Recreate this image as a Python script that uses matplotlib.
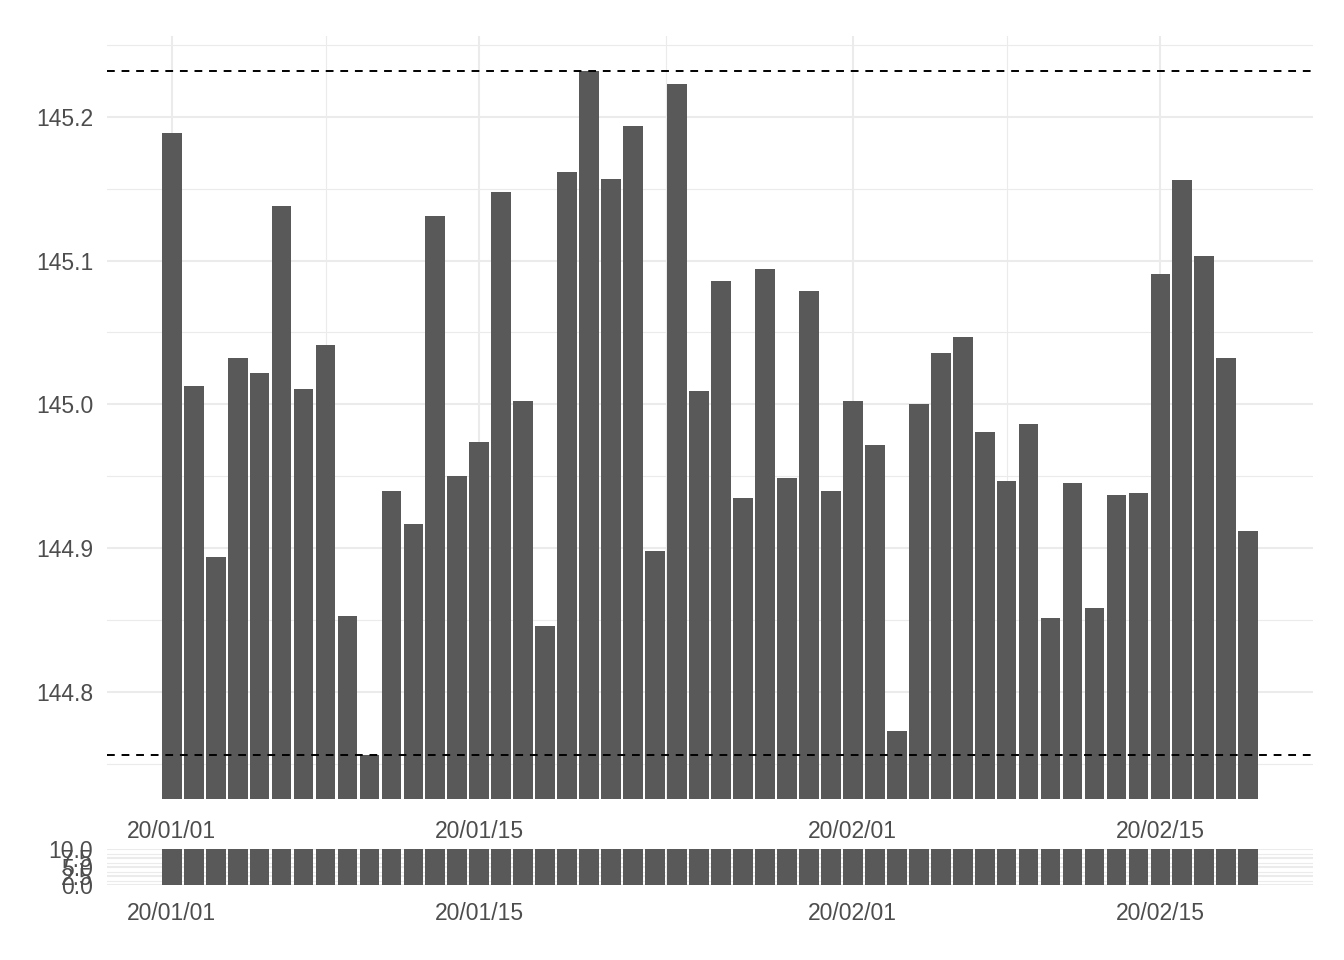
import numpy as np
import pandas as pd
import matplotlib
matplotlib.use("Agg")
import matplotlib.pyplot as plt
import matplotlib.dates as mdates
from matplotlib.ticker import FixedLocator, FormatStrFormatter, MultipleLocator

plt.rcParams['font.family'] = ['Liberation Sans', 'DejaVu Sans']

# daily values, 2020-01-01 .. 2020-02-19
dates = pd.date_range("2020-01-01", periods=50, freq="D")
values = [
    145.189, 145.013, 144.894, 145.032, 145.022, 145.138, 145.011, 145.041, 144.853, 144.756,
    144.940, 144.917, 145.131, 144.950, 144.974, 145.148, 145.002, 144.846, 145.162, 145.232,
    145.157, 145.194, 144.898, 145.223, 145.009, 145.086, 144.935, 145.094, 144.949, 145.079,
    144.940, 145.002, 144.972, 144.773, 145.000, 145.036, 145.047, 144.981, 144.947, 144.986,
    144.851, 144.945, 144.858, 144.937, 144.938, 145.091, 145.156, 145.103, 145.032, 144.912,
]
x_ticks = pd.to_datetime(["2020-01-01", "2020-01-15", "2020-02-01", "2020-02-15"])
x_minor = pd.to_datetime(["2020-01-08 00:00", "2020-01-23 12:00", "2020-02-08 00:00"])

bar_col = "#595959"
grid_col = "#EBEBEB"
text_col = "#4D4D4D"

fig = plt.figure(figsize=(13.44, 9.6), dpi=100)
ax = fig.add_axes([107/1344, 1-799/960, 1206/1344, 763/960])
ax2 = fig.add_axes([107/1344, 1-885/960, 1206/1344, 36/960])

xnum = mdates.date2num(dates)
xlo = xnum[0] - 2.945
xhi = xnum[-1] + 2.945


def style(a):
    for s in a.spines.values():
        s.set_visible(False)
    a.set_axisbelow(True)
    a.xaxis.set_major_locator(FixedLocator(mdates.date2num(x_ticks)))
    a.xaxis.set_minor_locator(FixedLocator(mdates.date2num(x_minor)))
    a.xaxis.set_major_formatter(mdates.DateFormatter("%y/%m/%d"))
    a.grid(which="major", color=grid_col, lw=1.5)
    a.grid(which="minor", color=grid_col, lw=0.8)
    a.tick_params(which="both", length=0, labelsize=16.5, labelcolor=text_col)
    a.tick_params(axis="y", pad=10)
    a.set_xlim(xlo, xhi)


# main panel
ax.bar(xnum, values, width=0.9, color=bar_col, zorder=2)
ax.axhline(max(values), color="black", lw=1.4, ls=(0, (4, 3.5)), zorder=3)
ax.axhline(min(values), color="black", lw=1.4, ls=(0, (4, 3.5)), zorder=3)
style(ax)
ax.set_ylim(144.7254, 145.2563)
ax.yaxis.set_major_locator(MultipleLocator(0.1))
ax.yaxis.set_minor_locator(MultipleLocator(0.05))
ax.yaxis.set_major_formatter(FormatStrFormatter("%.1f"))
ax.tick_params(axis="x", pad=15)

# overview panel
ax2.bar(xnum, values, width=0.9, color=bar_col, zorder=2)
style(ax2)
ax2.set_ylim(0, 10)
ax2.yaxis.set_major_locator(MultipleLocator(2.5))
ax2.yaxis.set_minor_locator(MultipleLocator(1.25))
ax2.yaxis.set_major_formatter(FormatStrFormatter("%.1f"))
ax2.tick_params(axis="x", pad=12)

fig.savefig("out.png", dpi=100)
